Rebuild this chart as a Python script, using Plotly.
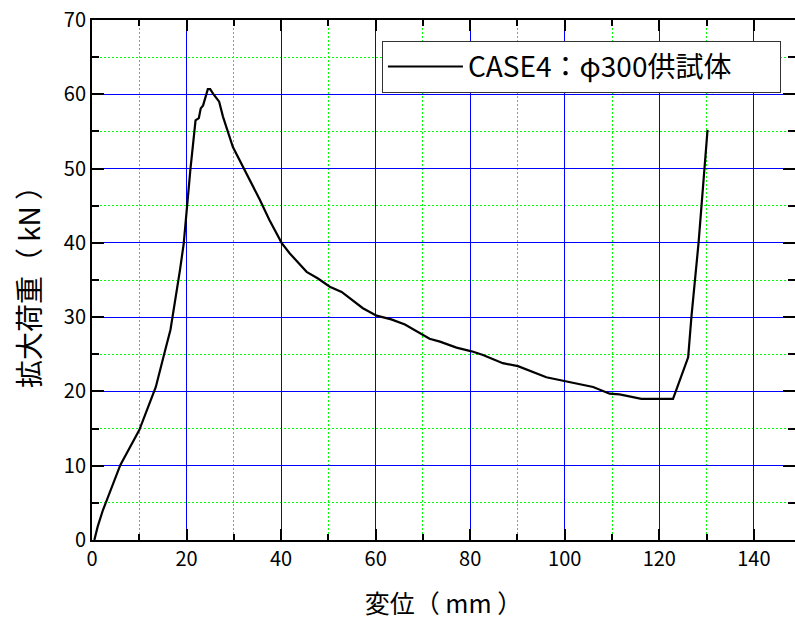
import plotly.graph_objects as go

# Displacement (mm) and enlarged load (kN) for CASE4 (φ300 specimen)
displacement = [0.5, 1.2, 2.3, 6.0, 10.0, 13.5, 15.3, 16.6, 18.6, 19.4, 20.8, 21.9,
                22.6, 23.0, 23.5, 24.1, 24.5, 25.0, 25.6, 26.9, 27.7, 29.8, 32.3,
                35.5, 37.5, 40.1, 41.8, 45.4, 47.8, 50.3, 52.8, 57.3, 60.2, 63.3,
                66.2, 69.3, 71.4, 73.6, 77.1, 80.3, 82.7, 86.9, 90.1, 96.1, 100.0,
                106.0, 109.5, 111.6, 116.2, 122.9, 126.1, 126.8, 128.3, 129.5, 130.2]
load = [0.0, 1.8, 4.0, 10.1, 14.8, 20.6, 25.1, 28.3, 36.3, 39.9, 49.8, 56.5,
        56.8, 58.1, 58.5, 59.7, 60.7, 60.7, 60.1, 59.0, 57.0, 52.9, 49.8,
        45.8, 43.1, 40.0, 38.6, 36.1, 35.2, 34.1, 33.4, 31.2, 30.2, 29.7,
        29.0, 27.8, 27.1, 26.7, 25.9, 25.4, 24.9, 23.8, 23.4, 21.9, 21.4,
        20.6, 19.7, 19.6, 19.0, 19.0, 24.6, 30.1, 40.0, 50.0, 55.2]

series_name = "CASE4：φ300供試体"
x_title = "変位（ mm ）"
y_title = "拡大荷重（ kN ）"

FONT = "Noto Sans CJK JP"
MAJOR_GRID = "#0000ff"
MINOR_GRID = "#00ff00"
MINOR_DASH = "2px,2px"

fig = go.Figure()
fig.add_trace(go.Scatter(
    x=displacement, y=load, mode="lines", name=series_name,
    line=dict(color="black", width=2.2),
))

axis_common = dict(
    showline=True, linecolor="black", linewidth=2,
    ticks="inside", tickcolor="black", tickwidth=2,
    mirror="ticks", showgrid=True, gridcolor=MAJOR_GRID, gridwidth=1,
    zeroline=False, tickfont=dict(family=FONT, size=20, color="black"),
)

fig.update_xaxes(
    **axis_common,
    range=[0, 148.7], dtick=20, tick0=0, ticklen=11,
    minor=dict(dtick=10, ticks="inside", ticklen=6, tickwidth=2, tickcolor="black",
               showgrid=True, gridcolor=MINOR_GRID, griddash=MINOR_DASH, gridwidth=1),
    title=dict(text=x_title, font=dict(family=FONT, size=25, color="black"), standoff=24),
)
fig.update_yaxes(
    **axis_common,
    range=[0, 70], dtick=10, tick0=0, ticklen=12,
    minor=dict(dtick=5, ticks="inside", ticklen=7, tickwidth=2, tickcolor="black",
               showgrid=True, gridcolor=MINOR_GRID, griddash=MINOR_DASH, gridwidth=1),
    title=dict(text=y_title, font=dict(family=FONT, size=28, color="black"), standoff=15),
)

fig.update_layout(
    template="none",
    width=795, height=624,
    margin=dict(l=92, r=0, t=20, b=84),
    paper_bgcolor="white", plot_bgcolor="white",
    showlegend=True,
    legend=dict(
        orientation="h",
        x=0.98, y=0.960, xanchor="right", yanchor="top",
        bgcolor="white", bordercolor="#333333", borderwidth=1,
        font=dict(family=FONT, size=28, color="black"),
        itemwidth=75, entrywidth=307, entrywidthmode="pixels",
    ),
)

fig.write_html("out.html")
